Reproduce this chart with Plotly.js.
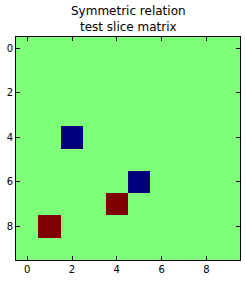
<!DOCTYPE html>
<html>
<head>
<meta charset="utf-8">
<script src="https://cdn.plot.ly/plotly-3.0.1.min.js"></script>
<style>html,body{margin:0;padding:0;background:#fff;}#chart{width:246px;height:281px;}</style>
</head>
<body>
<div id="chart"></div>
<script>
const titleText = "Symmetric relation<br>test slice matrix";
const rowIndex = [0,1,2,3,4,5,6,7,8,9];
const colIndex = [0,1,2,3,4,5,6,7,8,9];
const tickVals = [0,2,4,6,8];
const row0 = [0,0,0,0,0,0,0,0,0,0];
const row1 = [0,0,0,0,0,0,0,0,0,0];
const row2 = [0,0,0,0,0,0,0,0,0,0];
const row3 = [0,0,0,0,0,0,0,0,0,0];
const row4 = [0,0,-1,0,0,0,0,0,0,0];
const row5 = [0,0,0,0,0,0,0,0,0,0];
const row6 = [0,0,0,0,0,-1,0,0,0,0];
const row7 = [0,0,0,0,1,0,0,0,0,0];
const row8 = [0,1,0,0,0,0,0,0,0,0];
const row9 = [0,0,0,0,0,0,0,0,0,0];
const z = [row0,row1,row2,row3,row4,row5,row6,row7,row8,row9];

const axisCommon = {
  showgrid:false, zeroline:false, showline:true, linecolor:'#000', linewidth:1,
  mirror:'ticks', ticks:'inside', ticklen:4, tickcolor:'#000', tickwidth:1,
  tickfont:{family:'DejaVu Sans', size:10, color:'#000'},
  tickmode:'array', tickvals:tickVals, ticktext:tickVals.map(String)
};

Plotly.newPlot('chart', [{
  type:'heatmap', x:colIndex, y:rowIndex, z:z,
  zmin:-1, zmax:1, showscale:false, hoverinfo:'none',
  colorscale:[[0,'#00007f'],[0.5,'#7dff7a'],[1,'#7f0000']]
}], {
  width:246, height:281,
  margin:{l:16, r:6, t:37, b:21, pad:0},
  paper_bgcolor:'#fff', plot_bgcolor:'#fff',
  annotations:[{text:titleText, xref:'paper', yref:'paper', x:0.5, y:1, xanchor:'center', yanchor:'bottom', yshift:1, showarrow:false, font:{family:'DejaVu Sans', size:12, color:'#000'}}],
  xaxis:Object.assign({}, axisCommon, {range:[-0.5,9.5]}),
  yaxis:Object.assign({}, axisCommon, {range:[9.5,-0.5]})
}, {staticPlot:true, displayModeBar:false});
</script>
</body>
</html>
